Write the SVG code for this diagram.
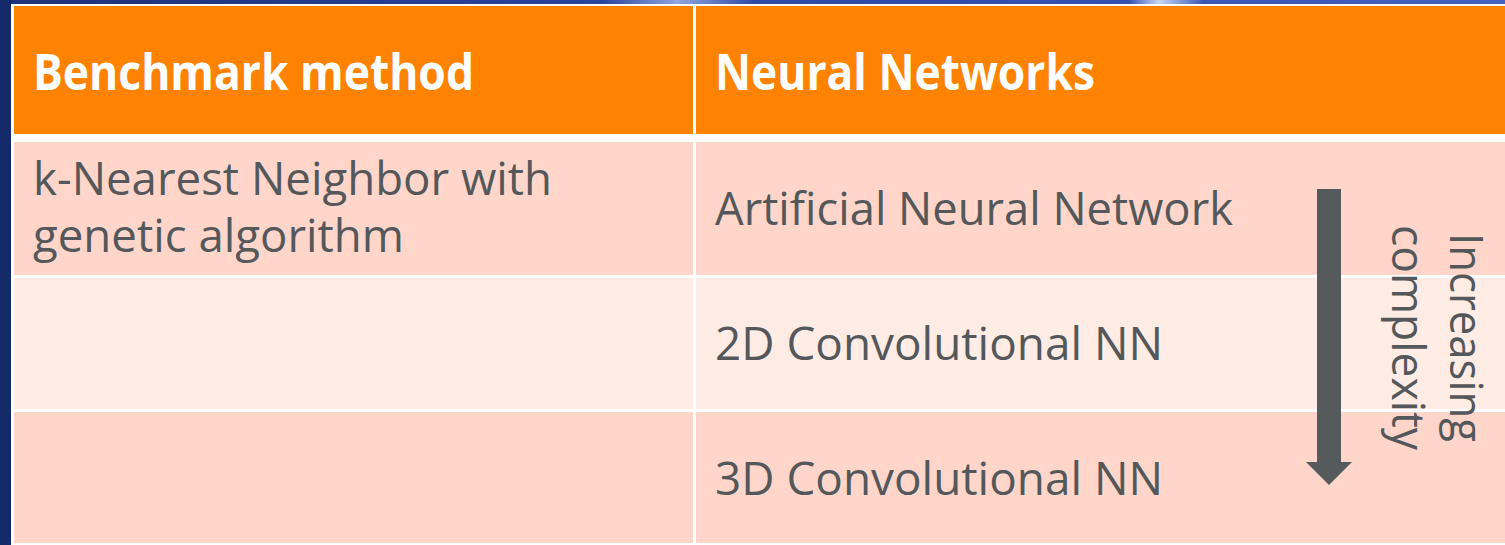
<svg xmlns="http://www.w3.org/2000/svg" width="1505" height="545" viewBox="0 0 1505 545">
<style>
.hdr{fill:#FF8200}
.r1{fill:#FFD6C9}
.r2{fill:#FFECE5}
.ht{font-family:"Open Sans","Noto Sans","Liberation Sans",sans-serif;font-weight:bold;font-size:50px;fill:#FFFFFF}
.bt{font-family:"Open Sans","Noto Sans","Liberation Sans",sans-serif;font-size:46px;fill:#54585B}
</style>
<defs>
<linearGradient id="topg" x1="0" y1="0" x2="1" y2="0">
<stop offset="0" stop-color="#1E3278"/>
<stop offset="0.4" stop-color="#2A439C"/>
<stop offset="0.45" stop-color="#8FA6E0"/>
<stop offset="0.5" stop-color="#2F4AA5"/>
<stop offset="0.75" stop-color="#3550AE"/>
<stop offset="0.77" stop-color="#C9D6F5"/>
<stop offset="0.8" stop-color="#3A55B2"/>
<stop offset="1" stop-color="#4563BE"/>
</linearGradient>
</defs>
<rect x="0" y="0" width="1505" height="545" fill="#FFFFFF"/>
<rect x="0" y="0" width="1505" height="4" fill="url(#topg)"/>
<rect x="0" y="0" width="11" height="545" fill="#152A6B"/>
<g id="header-left"><rect class="hdr" x="14" y="6" width="679" height="128"/><text class="ht" x="33" y="90" textLength="441" lengthAdjust="spacingAndGlyphs">Benchmark method</text></g>
<g id="header-right"><rect class="hdr" x="696" y="6" width="809" height="128"/><text class="ht" x="715" y="90" textLength="380" lengthAdjust="spacingAndGlyphs">Neural Networks</text></g>
<g id="row1-left"><rect class="r1" x="14" y="142" width="679" height="133"/><text class="bt" x="33" y="195" textLength="519" lengthAdjust="spacingAndGlyphs">k-Nearest Neighbor with</text><text class="bt" x="33" y="252" textLength="371" lengthAdjust="spacingAndGlyphs">genetic algorithm</text></g>
<g id="row1-right"><rect class="r1" x="696" y="142" width="809" height="133"/><text class="bt" x="715" y="225" textLength="518" lengthAdjust="spacingAndGlyphs">Artificial Neural Network</text></g>
<g id="row2-left"><rect class="r2" x="14" y="278" width="679" height="131"/></g>
<g id="row2-right"><rect class="r2" x="696" y="278" width="809" height="131"/><text class="bt" x="715" y="360" textLength="448" lengthAdjust="spacingAndGlyphs">2D Convolutional NN</text></g>
<g id="row3-left"><rect class="r1" x="14" y="412" width="679" height="131"/></g>
<g id="row3-right"><rect class="r1" x="696" y="412" width="809" height="131"/><text class="bt" x="715" y="495" textLength="448" lengthAdjust="spacingAndGlyphs">3D Convolutional NN</text></g>
<g id="connectors">
<polygon points="1317,189 1341,189 1341,462 1352,462 1329,485 1306,462 1317,462" fill="#555A5D"/>
</g>
<g id="label-complexity">
<text class="bt" transform="translate(1450,337.5) rotate(90)" text-anchor="middle" textLength="209" lengthAdjust="spacingAndGlyphs">Increasing</text>
<text class="bt" transform="translate(1392,337.5) rotate(90)" text-anchor="middle" textLength="225" lengthAdjust="spacingAndGlyphs">complexity</text>
</g>
</svg>
